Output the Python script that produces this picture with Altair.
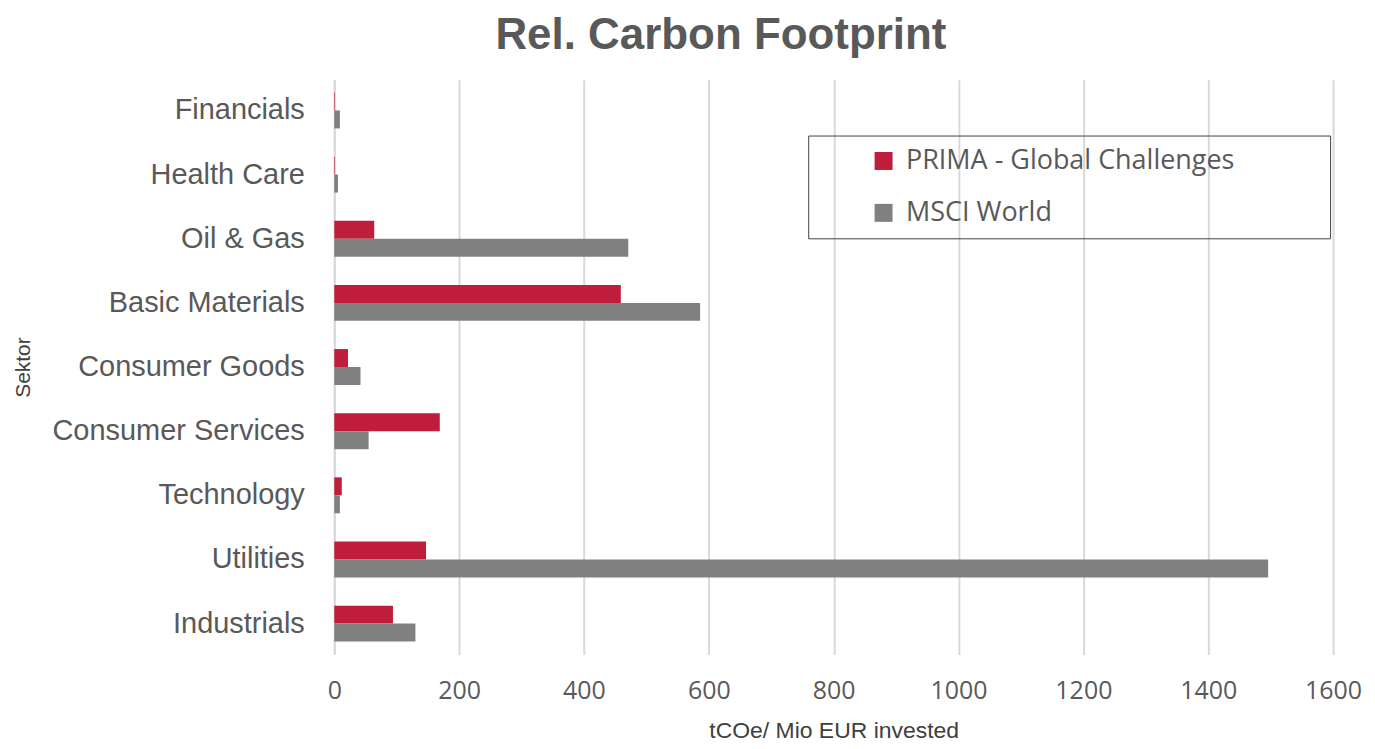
import altair as alt
import pandas as pd

sectors = ["Financials", "Health Care", "Oil & Gas", "Basic Materials",
           "Consumer Goods", "Consumer Services", "Technology", "Utilities", "Industrials"]
series_names = ["PRIMA - Global Challenges", "MSCI World"]
prima = [1, 1, 64, 459, 22, 169, 12, 147, 94]
msci = [9, 6, 471, 586, 42, 55, 9, 1496, 130]
colors = ["#BE1E3C", "#808080"]
x_ticks = [0, 200, 400, 600, 800, 1000, 1200, 1400, 1600]

rows = []
for s, p, m in zip(sectors, prima, msci):
    rows.append({"Sektor": s, "Serie": series_names[0], "Wert": p})
    rows.append({"Sektor": s, "Serie": series_names[1], "Wert": m})
df = pd.DataFrame(rows)

grey_text = "#595959"

chart = alt.Chart(df).mark_bar().encode(
    x=alt.X("Wert:Q",
            scale=alt.Scale(domain=[0, 1600], nice=False),
            axis=alt.Axis(values=x_ticks, format="d", title="tCOe/ Mio EUR invested",
                          grid=True, gridColor="#D9D9D9", gridWidth=2,
                          domain=False, ticks=False, labelFlush=False,
                          labelFont="Open Sans", labelFontSize=25, labelColor=grey_text,
                          labelPadding=24,
                          titleFont="Liberation Sans", titleFontSize=23, titleFontWeight="normal",
                          titleColor="#404040", titlePadding=16)),
    y=alt.Y("Sektor:N", sort=sectors,
            scale=alt.Scale(paddingInner=0.44, paddingOuter=0.2),
            axis=alt.Axis(title="Sektor", domain=True, domainColor="#D9D9D9", domainWidth=2,
                          ticks=False, grid=False,
                          labelFont="Liberation Sans", labelFontSize=29, labelColor=grey_text,
                          labelPadding=30, labelLimit=400,
                          titleFont="Liberation Sans", titleFontSize=21, titleFontWeight="normal",
                          titleColor="#404040", titleX=-301)),
    yOffset=alt.YOffset("Serie:N", sort=series_names),
    color=alt.Color("Serie:N",
                    scale=alt.Scale(domain=series_names, range=colors),
                    legend=alt.Legend(title=" ", titleOrient="right", titlePadding=84,
                                      titleFontSize=10,
                                      orient="none", legendX=475, legendY=56,
                                      padding=12, symbolOffset=50, symbolType="square",
                                      symbolSize=324, symbolStrokeWidth=0,
                                      labelFont="Open Sans", labelFontSize=27,
                                      labelColor=grey_text, labelOffset=9, labelLimit=500,
                                      rowPadding=24, strokeColor="#404040")),
).properties(
    width=1001,
    height=576,
    title=alt.Title("Rel. Carbon Footprint", fontSize=44, font="Liberation Sans",
                    fontWeight="bold", color=grey_text, anchor="middle", dx=-113, offset=22),
).configure_view(stroke=None)

chart.save("out.html", embed_options={"renderer": "svg", "actions": False})
